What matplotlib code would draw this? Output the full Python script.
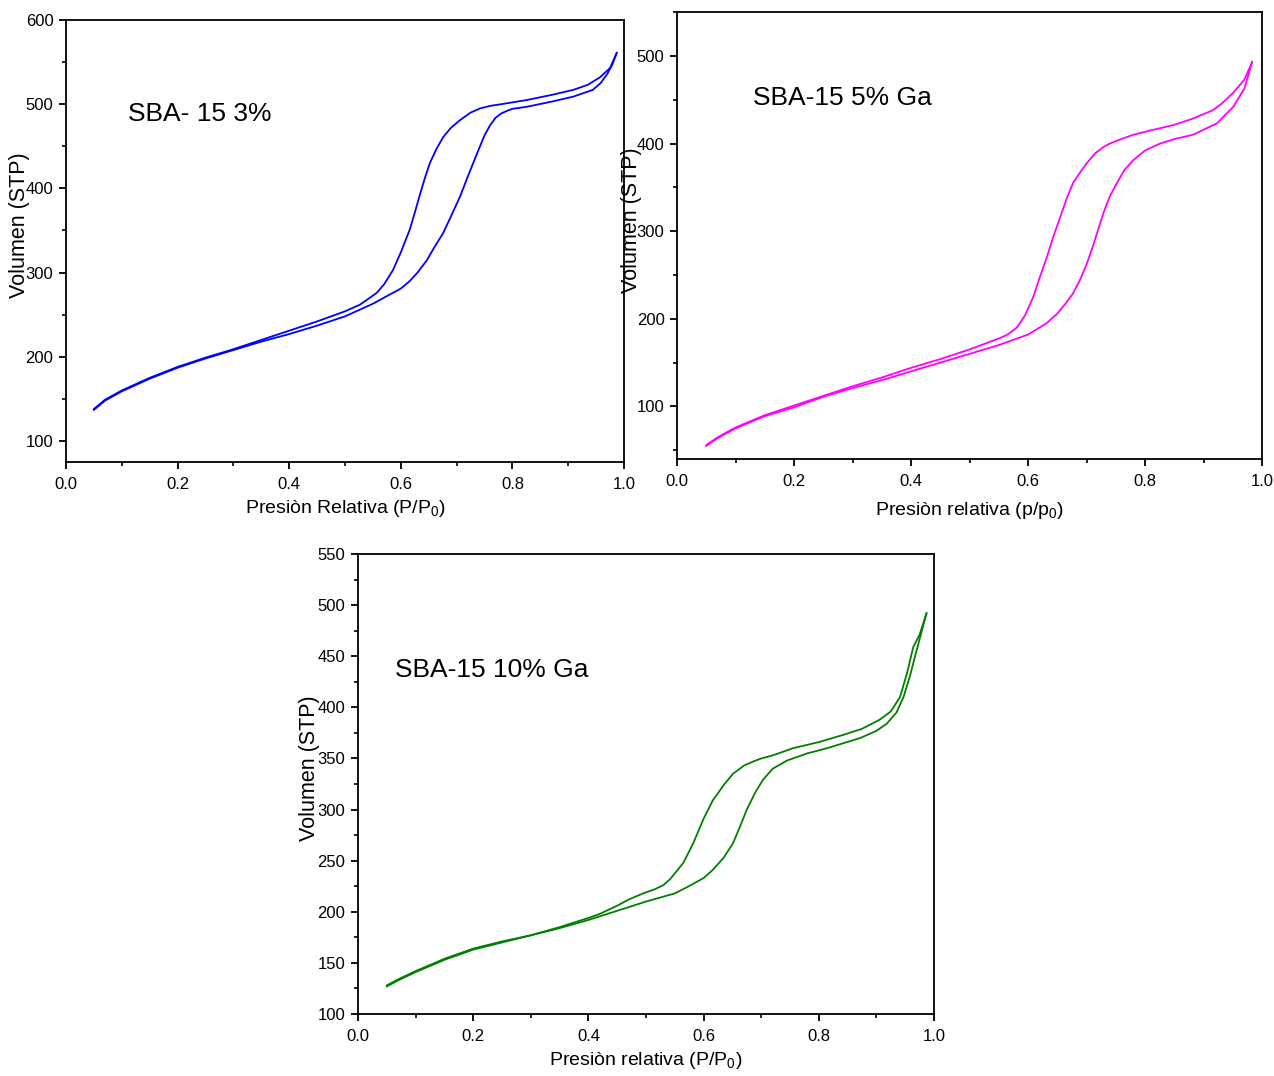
import matplotlib
matplotlib.use("Agg")
import matplotlib.pyplot as plt
from matplotlib.ticker import MultipleLocator

plt.rcParams['font.family'] = ['Liberation Sans', 'DejaVu Sans']
plt.rcParams['mathtext.default'] = 'regular'

# --- SBA-15 3% (blue) ---
ads1_x = [0.05, 0.07, 0.1, 0.15, 0.2, 0.25, 0.3, 0.35, 0.4, 0.45, 0.5, 0.55, 0.572, 0.6,
          0.616, 0.63, 0.647, 0.66, 0.676, 0.69, 0.706, 0.72, 0.737, 0.75, 0.76, 0.77,
          0.78, 0.79, 0.8, 0.826, 0.87, 0.909, 0.944, 0.958, 0.97, 0.979, 0.987]
ads1_y = [137, 148, 159, 174, 187, 198, 208, 218, 227, 237, 248, 263, 271, 281,
          290, 300, 315, 330, 347, 367, 390, 414, 442, 463, 475, 484,
          489, 492, 494.5, 497, 503, 509, 517, 525, 536, 547, 561]
des1_x = [0.987, 0.975, 0.957, 0.935, 0.909, 0.87, 0.826, 0.78, 0.76, 0.742, 0.725, 0.706,
          0.69, 0.676, 0.664, 0.652, 0.643, 0.634, 0.625, 0.616, 0.6, 0.586, 0.57, 0.557,
          0.54, 0.527, 0.5, 0.45, 0.4, 0.35, 0.3, 0.25, 0.2, 0.15, 0.1, 0.07, 0.05]
des1_y = [561, 543, 532, 523, 517, 511, 505, 500, 498, 495, 490, 481,
          472, 461, 447, 430, 412, 392, 371, 351, 324, 303, 286, 276,
          268, 262, 254, 242, 231, 220, 209, 199, 188, 175, 160, 149, 138]

# --- SBA-15 5% Ga (magenta) ---
ads2_x = [0.05, 0.07, 0.1, 0.15, 0.2, 0.25, 0.3, 0.35, 0.4, 0.45, 0.5, 0.55, 0.6, 0.632,
          0.65, 0.665, 0.677, 0.69, 0.7, 0.71, 0.72, 0.729, 0.74, 0.752, 0.765, 0.78,
          0.8, 0.826, 0.85, 0.882, 0.923, 0.951, 0.97, 0.983]
ads2_y = [55, 64, 75, 89, 99, 111, 121, 130, 140, 150, 160, 170, 182, 195,
          206, 218, 229, 246, 262, 281, 302, 321, 340, 355, 370, 381,
          392, 400, 405, 410, 423, 442, 463, 493]
des2_x = [0.983, 0.97, 0.951, 0.93, 0.916, 0.88, 0.848, 0.81, 0.78, 0.755, 0.74, 0.729,
          0.715, 0.701, 0.69, 0.677, 0.666, 0.655, 0.643, 0.632, 0.62, 0.609, 0.595, 0.581,
          0.565, 0.552, 0.52, 0.5, 0.45, 0.4, 0.35, 0.3, 0.25, 0.2, 0.15, 0.1, 0.07, 0.05]
des2_y = [493, 473, 458, 445, 438, 428, 421, 415, 410, 404, 400, 396,
          389, 378, 368, 355, 337, 316, 293, 270, 247, 225, 204, 190,
          182, 178, 170, 165, 154, 144, 133, 123, 112, 101, 90, 76, 65, 56]

# --- SBA-15 10% Ga (green) ---
ads3_x = [0.05, 0.07, 0.1, 0.15, 0.2, 0.25, 0.3, 0.35, 0.4, 0.45, 0.5, 0.55, 0.571, 0.6,
          0.616, 0.635, 0.651, 0.663, 0.675, 0.69, 0.703, 0.72, 0.745, 0.78, 0.814, 0.872,
          0.9, 0.918, 0.935, 0.947, 0.958, 0.97, 0.987]
ads3_y = [127, 133, 141, 153, 163, 170, 177, 184, 192, 201, 210, 218, 224, 233,
          241, 253, 267, 283, 300, 317, 329, 340, 348, 355, 360, 370,
          377, 384, 395, 410, 430, 456, 492]
des3_x = [0.987, 0.975, 0.964, 0.953, 0.941, 0.925, 0.906, 0.875, 0.842, 0.8, 0.755, 0.72,
          0.7, 0.686, 0.67, 0.651, 0.635, 0.616, 0.6, 0.582, 0.565, 0.542, 0.53, 0.515,
          0.495, 0.47, 0.45, 0.42, 0.4, 0.35, 0.3, 0.25, 0.2, 0.15, 0.1, 0.07, 0.05]
des3_y = [492, 471, 459, 433, 410, 396, 388, 379, 373, 366, 360, 353,
          350, 347, 343, 335, 324, 309, 291, 267, 248, 232, 226, 222,
          218, 212, 206, 198, 194, 185, 177, 171, 164, 154, 142, 134, 128]

panels = [
    dict(rect=[0.0518, 0.5706, 0.438, 0.4108], ylim=(75, 600), major=100, minor=50,
         ads=(ads1_x, ads1_y), des=(des1_x, des1_y), color='#0000FF',
         label='SBA- 15 3%', label_xy=(0.111, 488.5),
         xlabel='Presiòn Relativa (P/P$_0$)', ylab_xy=(-0.0645, 0.536), xlab_y=-0.081),
    dict(rect=[0.5314, 0.5734, 0.4592, 0.4154], ylim=(40, 550), major=100, minor=50,
         ads=(ads2_x, ads2_y), des=(des2_x, des2_y), color='#FF00FF',
         label='SBA-15 5% Ga', label_xy=(0.13, 451.6),
         xlabel='Presiòn relativa (p/p$_0$)', ylab_xy=(-0.060, 0.535), xlab_y=-0.092),
    dict(rect=[0.281, 0.0576, 0.4521, 0.4275], ylim=(100, 550), major=50, minor=25,
         ads=(ads3_x, ads3_y), des=(des3_x, des3_y), color='#008000',
         label='SBA-15 10% Ga', label_xy=(0.064, 437),
         xlabel='Presiòn relativa (P/P$_0$)', ylab_xy=(-0.066, 0.535), xlab_y=-0.078),
]

fig = plt.figure(figsize=(12.74, 10.76), dpi=100)

for p in panels:
    ax = fig.add_axes(p['rect'])
    ax.plot(*p['ads'], color=p['color'], linewidth=1.3)
    ax.plot(*p['des'], color=p['color'], linewidth=1.3)
    ax.set_xlim(0, 1.0)
    ax.set_ylim(*p['ylim'])
    ax.xaxis.set_major_locator(MultipleLocator(0.2))
    ax.xaxis.set_minor_locator(MultipleLocator(0.1))
    ax.yaxis.set_major_locator(MultipleLocator(p['major']))
    ax.yaxis.set_minor_locator(MultipleLocator(p['minor']))
    ax.xaxis.set_major_formatter(plt.FuncFormatter(lambda v, _: f"{v:.1f}"))
    ax.tick_params(which='major', direction='out', length=5, width=1.3, labelsize=12)
    ax.tick_params(axis='x', which='major', pad=6)
    ax.tick_params(axis='y', which='major', pad=4)
    ax.tick_params(which='minor', direction='out', length=3, width=1.2)
    for s in ax.spines.values():
        s.set_linewidth(1.3)
    ax.text(p['label_xy'][0], p['label_xy'][1], p['label'], fontsize=19,
            ha='left', va='center')
    ax.set_xlabel(p['xlabel'], fontsize=14)
    ax.set_ylabel('Volumen (STP)', fontsize=15.5)
    ax.xaxis.set_label_coords(0.5, p['xlab_y'])
    ax.yaxis.set_label_coords(*p['ylab_xy'])

fig.savefig('out.png', dpi=100)
